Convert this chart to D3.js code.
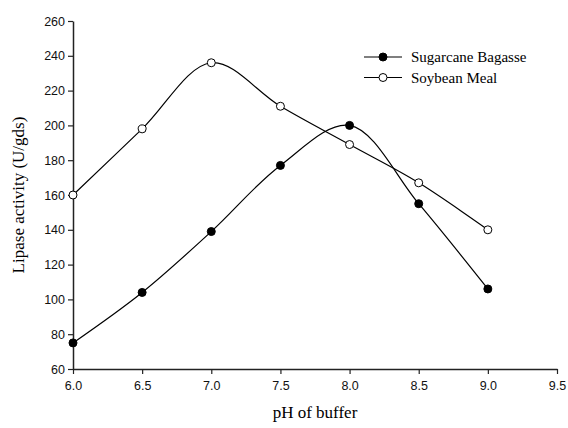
<!DOCTYPE html>
<html>
<head>
<meta charset="utf-8">
<script src="https://cdn.jsdelivr.net/npm/d3@7"></script>
<style>
  body { margin: 0; background: #fff; }
  svg { display: block; }
</style>
</head>
<body>
<svg id="chart" width="568" height="428"></svg>
<script>
const ph = [6.0, 6.5, 7.0, 7.5, 8.0, 8.5, 9.0];
const sugarcane = [75, 104, 139, 177, 200, 155, 106];
const soybean = [160, 198, 236, 211, 189, 167, 140];
const xTicks = [6.0, 6.5, 7.0, 7.5, 8.0, 8.5, 9.0, 9.5];
const yTicks = [60, 80, 100, 120, 140, 160, 180, 200, 220, 240, 260];

const series = [
  { name: "Sugarcane Bagasse", values: sugarcane, fill: "#000" },
  { name: "Soybean Meal", values: soybean, fill: "#fff" },
];

const svg = d3.select("#chart");
const margin = { top: 21, right: 11, bottom: 59, left: 73 };
const width = 568 - margin.left - margin.right;
const height = 428 - margin.top - margin.bottom;

const x = d3.scaleLinear().domain([6.0, 9.5]).range([0, width]);
const y = d3.scaleLinear().domain([60, 260]).range([height, 0]);

const g = svg.append("g")
  .attr("transform", `translate(${margin.left}, ${margin.top})`);

const xAxis = g.append("g")
  .attr("transform", `translate(0, ${height})`)
  .call(d3.axisBottom(x).tickValues(xTicks).tickFormat(d3.format(".1f")).tickSize(5).tickSizeOuter(0));

const yAxis = g.append("g")
  .call(d3.axisLeft(y).tickValues(yTicks).tickSize(5).tickSizeOuter(0));

[xAxis, yAxis].forEach((a) => {
  a.selectAll("path").attr("stroke", "#222").attr("stroke-width", 1.5);
  a.selectAll("line").attr("stroke", "#222").attr("stroke-width", 1.2);
  a.selectAll("text")
    .attr("font-family", "Liberation Sans, Arial, sans-serif")
    .attr("font-size", "12.5px")
    .attr("fill", "#111");
});
xAxis.selectAll("text").attr("dy", "1.05em");
yAxis.selectAll("text").attr("x", -8);

const line = d3.line()
  .x((d, i) => x(ph[i]))
  .y((d) => y(d))
  .curve(d3.curveCatmullRom.alpha(0.5));

series.forEach((s) => {
  g.append("path")
    .datum(s.values)
    .attr("fill", "none")
    .attr("stroke", "#000")
    .attr("stroke-width", 1.2)
    .attr("d", line);
});

series.forEach((s) => {
  g.selectAll(null)
    .data(s.values)
    .join("circle")
    .attr("cx", (d, i) => x(ph[i]))
    .attr("cy", (d) => y(d))
    .attr("r", 4)
    .attr("fill", s.fill)
    .attr("stroke", "#000")
    .attr("stroke-width", 1);
});

// legend
const legend = svg.append("g").attr("transform", "translate(364, 57)");
series.forEach((s, i) => {
  const row = legend.append("g").attr("transform", `translate(0, ${i * 20.5})`);
  row.append("line")
    .attr("x1", 0).attr("x2", 38)
    .attr("stroke", "#000").attr("stroke-width", 1.2);
  row.append("circle")
    .attr("cx", 19).attr("r", 4)
    .attr("fill", s.fill).attr("stroke", "#000");
  row.append("text")
    .attr("x", 47).attr("dy", "0.35em")
    .attr("font-family", "Liberation Serif, Times New Roman, serif")
    .attr("font-size", "15px")
    .text(s.name);
});

svg.append("text")
  .attr("text-anchor", "middle")
  .attr("x", margin.left + width / 2)
  .attr("y", 418)
  .attr("font-family", "Liberation Serif, Times New Roman, serif")
  .attr("font-size", "17px")
  .text("pH of buffer");

svg.append("text")
  .attr("text-anchor", "middle")
  .attr("transform", "rotate(-90)")
  .attr("x", -(margin.top + height / 2))
  .attr("y", 24)
  .attr("font-family", "Liberation Serif, Times New Roman, serif")
  .attr("font-size", "17px")
  .text("Lipase activity (U/gds)");
</script>
</body>
</html>
